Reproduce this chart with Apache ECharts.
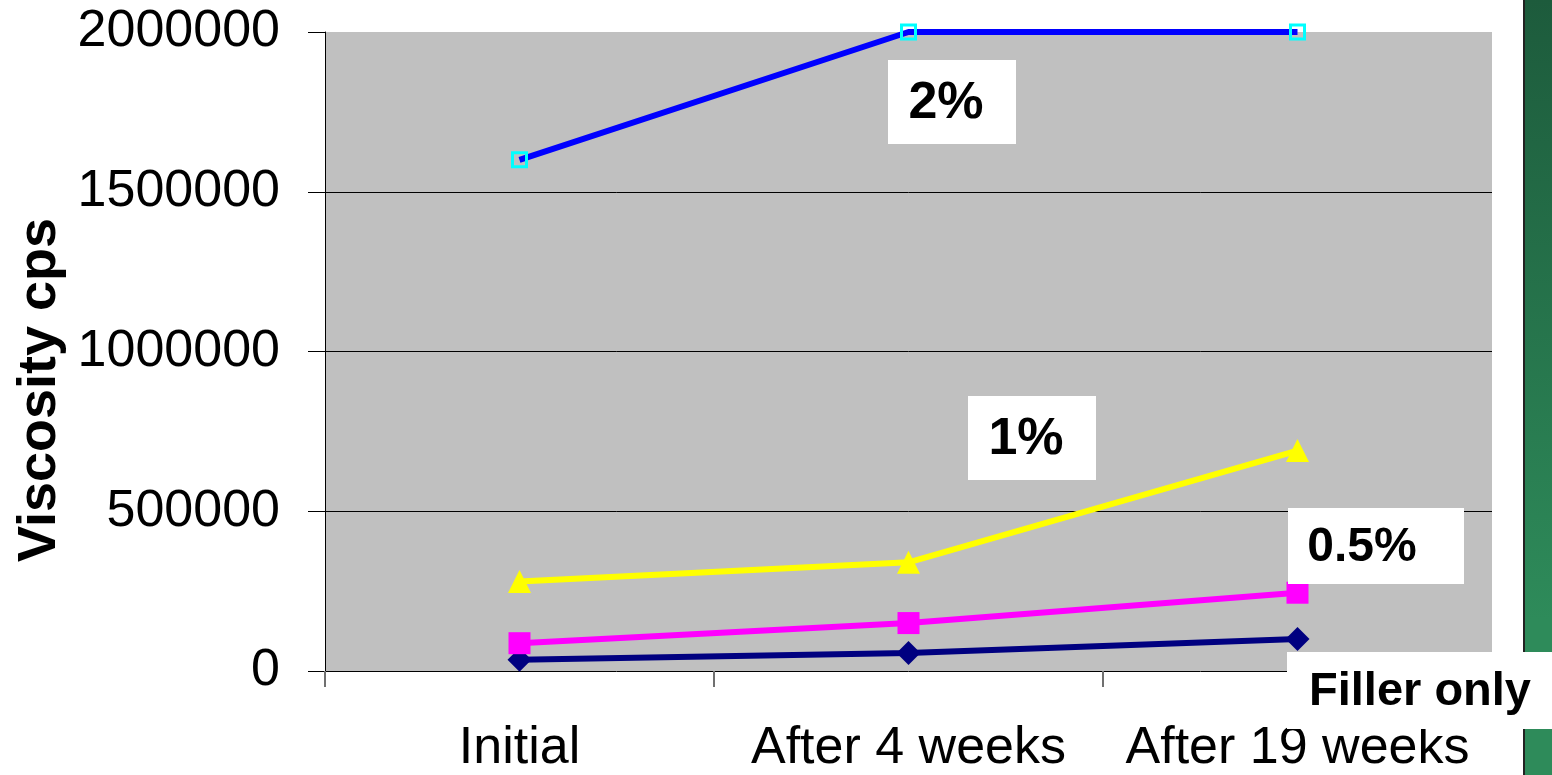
<!DOCTYPE html>
<html>
<head>
<meta charset="utf-8">
<title>Viscosity over time</title>
<script src="https://cdn.jsdelivr.net/npm/echarts@6/dist/echarts.min.js"></script>
<style>
  html, body { margin: 0; padding: 0; background: #ffffff; }
  #chart { width: 1552px; height: 775px; }
</style>
</head>
<body>
<div id="chart"></div>
<script>
// Time points
var categories = ['Initial', 'After 4 weeks', 'After 19 weeks'];

// Viscosity (cps) per formulation
var fillerOnly = [35000, 56000, 100000];
var pct05 = [87000, 150000, 245000];
var pct1 = [280000, 340000, 690000];
var pct2 = [1600000, 2000000, 2000000];

var seriesNames = ['Filler only', '0.5%', '1%', '2%'];

// Y axis ticks
var yMin = 0;
var yMax = 2000000;
var yStep = 500000;

var FONT = '"Liberation Sans", Arial, Helvetica, sans-serif';

var chart = echarts.init(document.getElementById('chart'), null, { renderer: 'canvas' });

function tag(name, box, textPos, size) {
  return {
    type: 'group',
    z: 100,
    children: [
      { type: 'rect', z: 100, shape: { x: box[0], y: box[1], width: box[2], height: box[3] },
        style: { fill: '#ffffff' } },
      { type: 'text', z: 101, x: textPos[0], y: textPos[1],
        style: { text: name, fill: '#000000', font: 'bold ' + size + 'px ' + FONT,
                 align: 'center', verticalAlign: 'middle' } }
    ]
  };
}

var option = {
  animation: false,
  backgroundColor: '#ffffff',
  grid: {
    left: 325, right: 60, top: 32, bottom: 103,
    show: true, backgroundColor: '#C0C0C0', borderWidth: 0
  },
  xAxis: {
    type: 'category',
    data: categories,
    boundaryGap: true,
    axisLine: { show: true, lineStyle: { color: '#000000', width: 1 } },
    axisTick: { show: true, interval: 0, length: 16, lineStyle: { color: '#707070', width: 2 } },
    axisLabel: { interval: 0, hideOverlap: false, color: '#000000', fontFamily: FONT,
                 fontSize: 52, margin: 52 },
    splitLine: { show: false }
  },
  yAxis: {
    type: 'value',
    min: yMin, max: yMax, interval: yStep,
    axisLine: { show: true, lineStyle: { color: '#000000', width: 1 } },
    axisTick: { show: true, length: 17, lineStyle: { color: '#000000', width: 1 } },
    axisLabel: { color: '#000000', fontFamily: FONT, fontSize: 52, margin: 45,
                 formatter: function (v) { return String(v); } },
    splitLine: { show: true, showMinLine: false, showMaxLine: false,
                 lineStyle: { color: '#000000', width: 1 } }
  },
  series: [
    {
      name: seriesNames[0], type: 'line', data: fillerOnly, clip: false,
      symbol: 'diamond', symbolSize: 24,
      lineStyle: { color: '#000080', width: 6 },
      itemStyle: { color: '#000080' }
    },
    {
      name: seriesNames[1], type: 'line', data: pct05, clip: false,
      symbol: 'rect', symbolSize: 22,
      lineStyle: { color: '#FF00FF', width: 6 },
      itemStyle: { color: '#FF00FF' }
    },
    {
      name: seriesNames[2], type: 'line', data: pct1, clip: false,
      symbol: 'triangle', symbolSize: 23,
      lineStyle: { color: '#FFFF00', width: 6 },
      itemStyle: { color: '#FFFF00' }
    },
    {
      name: seriesNames[3], type: 'line', data: pct2, clip: false,
      symbol: 'rect', symbolSize: 14,
      lineStyle: { color: '#0000FF', width: 6 },
      itemStyle: { color: 'rgba(0,0,0,0)', borderColor: '#00FFFF', borderWidth: 3 }
    }
  ],
  graphic: [
    // axis title
    { type: 'text', z: 50, x: 40, y: 390, rotation: Math.PI / 2,
      style: { text: 'Viscosity cps', fill: '#000000', font: 'bold 54px ' + FONT,
               align: 'center', verticalAlign: 'middle' } },
    // side band on the right edge
    { type: 'rect', z: 10, shape: { x: 1523, y: 0, width: 2, height: 775 },
      style: { fill: '#222222' } },
    { type: 'rect', z: 10, shape: { x: 1525, y: 0, width: 27, height: 775 },
      style: { fill: new echarts.graphic.LinearGradient(0, 0, 0, 1, [
        { offset: 0, color: '#1d5b3c' },
        { offset: 0.8, color: '#2e8b5a' },
        { offset: 1, color: '#2e8b5a' }
      ]) } },
    // series tags
    tag(seriesNames[3], [888, 60, 128, 84], [946, 104], 52),
    tag(seriesNames[2], [968, 396, 128, 84], [1026, 440], 52),
    tag(seriesNames[1], [1288, 508, 176, 76], [1362, 548], 48),
    tag(seriesNames[0], [1287, 652, 270, 77], [1420, 692], 47)
  ]
};

chart.setOption(option);
</script>
</body>
</html>
